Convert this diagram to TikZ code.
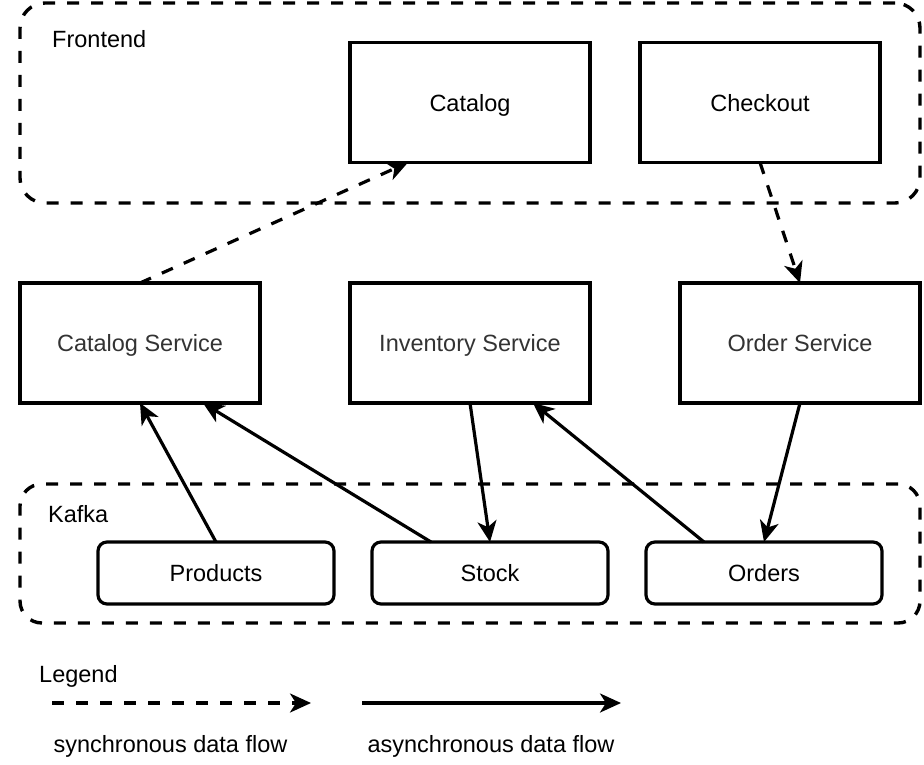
\documentclass[tikz,border=0pt]{standalone}
\usepackage{fontspec}
\setmainfont{Liberation Sans}
\usetikzlibrary{arrows.meta,calc}
\definecolor{svctext}{HTML}{333333}
\tikzset{
  lw/.style={line width=3.2pt},
  txt/.style={font=\fontsize{23.5}{28}\selectfont, text height=17pt, text depth=0pt},
  box/.style={lw, txt, draw=black, fill=white, minimum width=240pt, minimum height=120pt, inner sep=0pt, outer sep=0pt},
  topic/.style={lw, txt, draw=black, fill=white, rounded corners=9pt, minimum width=236pt, minimum height=62pt, inner sep=0pt, outer sep=0pt},
  group/.style={line width=3.4pt, draw=black, dash pattern=on 12pt off 12pt, inner sep=0pt, outer sep=0pt},
  lbl/.style={txt, inner sep=0pt, anchor=west},
  tip/.style={-{Stealth[length=21pt,width=19pt,inset=6pt]}},
  sync/.style={lw, tip, dash pattern=on 12pt off 12pt},
  async/.style={lw, tip},
}
\begin{document}
\begin{tikzpicture}[x=1pt,y=-1pt]
\useasboundingbox (0,0) rectangle (924,764);
% groups
\node[group, rounded corners=25pt, minimum width=900pt, minimum height=200pt] (frontend) at (470,103) {};
\node[group, rounded corners=22pt, minimum width=900pt, minimum height=139pt] (kafka) at (470,553.5) {};
\node[lbl] (frontendlbl) at (52,38.5) {Frontend};
\node[lbl] (kafkalbl) at (48,514) {Kafka};
% frontend boxes
\node[box] (cat) at (470,102.5) {Catalog};
\node[box] (chk) at (760,102.5) {Checkout};
% services
\node[box, text=svctext] (csvc) at (140,343) {Catalog Service};
\node[box, text=svctext] (isvc) at (470,343) {Inventory Service};
\node[box, text=svctext] (osvc) at (800,343) {Order Service};
% topics
\node[topic] (prod) at (216,573) {Products};
\node[topic] (stock) at (490,573) {Stock};
\node[topic] (orders) at (764,573) {Orders};
% sync arrows
\draw[sync] (csvc.north) -- ($(cat.south west)+(58,0)$);
\draw[sync] (chk.south) -- (osvc.north);
% async arrows
\draw[async] (prod.north) -- (csvc.south);
\draw[async] ($(stock.north west)+(59,0)$) -- ($(csvc.south east)+(-57,0)$);
\draw[async] (isvc.south) -- (stock.north);
\draw[async] ($(orders.north west)+(58,0)$) -- ($(isvc.south east)+(-57,0)$);
\draw[async] (osvc.south) -- (orders.north);
% legend
\node[lbl] (legendlbl) at (39,673.5) {Legend};
\coordinate (la) at (52,703);
\coordinate (lb) at (311,703);
\coordinate (lc) at (362,703);
\coordinate (ld) at (621,703);
\draw[sync] (la) -- (lb);
\draw[async] (lc) -- (ld);
\node[txt, inner sep=0pt] (synclbl) at (170.5,744) {synchronous data flow};
\node[txt, inner sep=0pt] (asynclbl) at (491,744) {asynchronous data flow};
\end{tikzpicture}
\end{document}
